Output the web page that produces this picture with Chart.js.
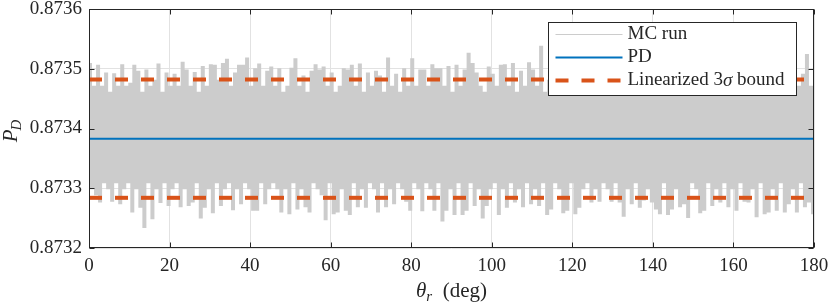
<!DOCTYPE html>
<html>
<head>
<meta charset="utf-8">
<script src="https://cdn.jsdelivr.net/npm/chart.js@4.4.1/dist/chart.umd.min.js"></script>
<style>
  html, body { margin: 0; padding: 0; background: #fff; }
  #wrap { width: 830px; height: 307px; }
</style>
</head>
<body>
<div id="wrap"><canvas id="pdChart" width="830" height="307"></canvas></div>
<script>
// --- Data ---
const xTicks = [0, 20, 40, 60, 80, 100, 120, 140, 160, 180];
const yTicks = [0.8732, 0.8733, 0.8734, 0.8735, 0.8736];
const xEnds = [0, 180];
const pdValue = [0.873383, 0.873383];
const boundUpper = [0.873482, 0.873482];
const boundLower = [0.873284, 0.873284];

// MC run: peak at each whole degree, dip at the half degree after it
const mcPeak = [
  0.873508, 0.87347, 0.873505, 0.87347, 0.873492, 0.87346, 0.873491, 0.87347, 0.873506, 0.87347,
  0.873475, 0.873505, 0.873495, 0.87346, 0.873497, 0.87347, 0.87348, 0.873507, 0.87346, 0.873492,
  0.87347, 0.87349, 0.87347, 0.87351, 0.873497, 0.87347, 0.873493, 0.87346, 0.873503, 0.87347,
  0.873506, 0.873505, 0.87348, 0.873508, 0.873515, 0.87347, 0.873492, 0.873505, 0.873505, 0.873517,
  0.87347, 0.873499, 0.873507, 0.87347, 0.873495, 0.873502, 0.87347, 0.873499, 0.87346, 0.87347,
  0.8735, 0.873516, 0.87347, 0.873487, 0.87346, 0.873495, 0.873506, 0.873497, 0.873502, 0.87347,
  0.873492, 0.87346, 0.87347, 0.873499, 0.873497, 0.873505, 0.87347, 0.873507, 0.87346, 0.873492,
  0.87347, 0.873495, 0.873487, 0.87346, 0.873517, 0.87347, 0.87349, 0.87346, 0.873499, 0.87347,
  0.873516, 0.87347, 0.873497, 0.873497, 0.87347, 0.873506, 0.873499, 0.873499, 0.87347, 0.873503,
  0.87346, 0.873505, 0.87347, 0.873497, 0.873525, 0.873508, 0.873492, 0.87347, 0.87346, 0.873502,
  0.87349, 0.87347, 0.873505, 0.873506, 0.87347, 0.873508, 0.87346, 0.873495, 0.87347, 0.873509,
  0.873497, 0.87347, 0.873537, 0.87346, 0.87348, 0.87347, 0.87349, 0.87346, 0.8735, 0.87347,
  0.87348, 0.87349, 0.87346, 0.87347, 0.8735, 0.87347, 0.87348, 0.87346, 0.87349, 0.87347,
  0.87347, 0.8735, 0.87346, 0.87348, 0.87347, 0.87349, 0.87346, 0.87347, 0.8735, 0.87347,
  0.87348, 0.87346, 0.87349, 0.87347, 0.87347, 0.8735, 0.87346, 0.87348, 0.87347, 0.87349,
  0.87346, 0.87347, 0.8735, 0.87347, 0.87348, 0.87346, 0.87349, 0.87347, 0.87347, 0.8735,
  0.87346, 0.87348, 0.87347, 0.87349, 0.87346, 0.87347, 0.8735, 0.87347, 0.87348, 0.87346,
  0.87349, 0.87347, 0.87347, 0.8735, 0.87346, 0.87348, 0.87347, 0.87349, 0.873523, 0.87347,
  0.8735
];
const mcDip = [
  0.8733, 0.87329, 0.873278, 0.87331, 0.8733, 0.873279, 0.87331, 0.873275, 0.8733, 0.87331,
  0.873261, 0.8733, 0.873269, 0.873235, 0.87331, 0.87325, 0.8733, 0.873277, 0.87331, 0.873272,
  0.8733, 0.87331, 0.87327, 0.8733, 0.873272, 0.873278, 0.87331, 0.873251, 0.873269, 0.8733,
  0.87326, 0.87331, 0.873272, 0.8733, 0.87331, 0.873265, 0.8733, 0.873275, 0.87331, 0.8733,
  0.873264, 0.873264, 0.87331, 0.873275, 0.8733, 0.87331, 0.8733, 0.873261, 0.8733, 0.873258,
  0.87331, 0.873266, 0.8733, 0.87327, 0.873261, 0.87331, 0.8733, 0.87329, 0.873248, 0.87331,
  0.873258, 0.873261, 0.8733, 0.873264, 0.873257, 0.87331, 0.87327, 0.8733, 0.873269, 0.87331,
  0.8733, 0.873261, 0.87331, 0.87327, 0.8733, 0.873275, 0.87331, 0.8733, 0.873279, 0.873264,
  0.87331, 0.8733, 0.873263, 0.87331, 0.8733, 0.873264, 0.87331, 0.873246, 0.873264, 0.8733,
  0.873257, 0.87331, 0.873257, 0.873264, 0.87331, 0.873272, 0.8733, 0.873251, 0.873272, 0.8733,
  0.87331, 0.873257, 0.8733, 0.873269, 0.87331, 0.873278, 0.8733, 0.87327, 0.87331, 0.873275,
  0.8733, 0.873272, 0.87331, 0.873257, 0.873266, 0.87331, 0.8733, 0.87326, 0.873264, 0.87331,
  0.873258, 0.873269, 0.8733, 0.87331, 0.873278, 0.8733, 0.873279, 0.87331, 0.8733, 0.873279,
  0.87331, 0.873278, 0.873254, 0.8733, 0.873275, 0.87331, 0.873269, 0.873281, 0.8733, 0.873278,
  0.873266, 0.873258, 0.87331, 0.873257, 0.873266, 0.8733, 0.87327, 0.873275, 0.873252, 0.87331,
  0.8733, 0.87326, 0.873264, 0.87331, 0.873272, 0.8733, 0.873278, 0.87331, 0.87327, 0.8733,
  0.873264, 0.87331, 0.873279, 0.873278, 0.8733, 0.873253, 0.87331, 0.873258, 0.873261, 0.8733,
  0.873264, 0.87331, 0.873261, 0.873275, 0.8733, 0.873261, 0.87331, 0.87327, 0.873278, 0.873258
];

// --- Styling ---
const FONT = "'Liberation Serif', 'DejaVu Serif', serif";
const INK = '#262626';
const GRID = '#e2e2e2';

// interleave peaks and dips into one trace
const mcPoints = [];
mcPeak.forEach((v, i) => {
  mcPoints.push({ x: i, y: v });
  if (i < mcDip.length) mcPoints.push({ x: i + 0.5, y: mcDip[i] });
});

const flat = vals => xEnds.map((x, i) => ({ x: x, y: vals[i] }));

// --- Frame, inner ticks, legend and axis titles (MATLAB look) ---
const matlabFrame = {
  id: 'matlabFrame',
  afterDraw(chart) {
    const { ctx, chartArea: a, scales: { x, y } } = chart;
    const L = Math.round(a.left) + 0.5, R = Math.round(a.right) - 0.5;
    const T = Math.round(a.top) + 0.5, B = Math.round(a.bottom) - 0.5;
    ctx.save();

    // inner ticks
    ctx.strokeStyle = INK;
    ctx.lineWidth = 1;
    ctx.beginPath();
    xTicks.forEach(t => {
      const px = Math.round(x.getPixelForValue(t)) + 0.5;
      ctx.moveTo(px, B); ctx.lineTo(px, B - 5);
      ctx.moveTo(px, T); ctx.lineTo(px, T + 5);
    });
    yTicks.forEach(t => {
      const py = Math.round(y.getPixelForValue(t)) + 0.5;
      ctx.moveTo(L, py); ctx.lineTo(L + 5, py);
      ctx.moveTo(R, py); ctx.lineTo(R - 5, py);
    });
    ctx.stroke();
    ctx.strokeRect(L, T, R - L, B - T);

    // legend box
    const bw = 248, bh = 73;
    const bx = Math.round(a.right) - 18 - bw + 0.5, by = Math.round(a.top) + 13 + 0.5;
    ctx.fillStyle = '#fff';
    ctx.fillRect(bx, by, bw, bh);
    ctx.strokeStyle = INK;
    ctx.strokeRect(bx, by, bw, bh);
    const rows = [12, 35, 58];
    chart.data.datasets.slice(0, 3).forEach((ds, i) => {
      const ry = by + rows[i];
      ctx.save();
      ctx.strokeStyle = ds.borderColor;
      ctx.lineWidth = i === 0 ? 1.2 : ds.borderWidth;
      ctx.setLineDash(ds.borderDash || []);
      ctx.beginPath();
      ctx.moveTo(bx + 7, ry); ctx.lineTo(bx + 74, ry);
      ctx.stroke();
      ctx.restore();
      ctx.fillStyle = INK;
      ctx.textBaseline = 'middle';
      ctx.textAlign = 'left';
      let tx = bx + 79;
      if (ds.label.includes('σ')) {
        const [pre, post] = ds.label.split('σ');
        ctx.font = '19px ' + FONT;
        ctx.fillText(pre, tx, ry);
        tx += ctx.measureText(pre).width;
        ctx.font = 'italic 19px ' + FONT;
        ctx.fillText('σ', tx, ry);
        tx += ctx.measureText('σ').width;
        ctx.font = '19px ' + FONT;
        ctx.fillText(post, tx, ry);
      } else {
        ctx.font = '19px ' + FONT;
        ctx.fillText(ds.label, tx, ry);
      }
    });

    // x title: theta_r (deg)
    ctx.fillStyle = INK;
    ctx.textBaseline = 'alphabetic';
    ctx.textAlign = 'left';
    const big = 'italic 21px ' + FONT, sub = 'italic 15px ' + FONT, up = '21px ' + FONT;
    ctx.font = big; const w1 = ctx.measureText('θ').width;
    ctx.font = sub; const w2 = ctx.measureText('r').width;
    ctx.font = up; const w3 = ctx.measureText('  (deg)').width;
    let cx = (a.left + a.right) / 2 - (w1 + w2 + w3) / 2;
    const base = 297;
    ctx.font = big; ctx.fillText('θ', cx, base); cx += w1;
    ctx.font = sub; ctx.fillText('r', cx, base + 4); cx += w2;
    ctx.font = up; ctx.fillText('  (deg)', cx, base);

    // y title: P_D
    ctx.save();
    ctx.translate(17, (a.top + a.bottom) / 2 + 2);
    ctx.rotate(-Math.PI / 2);
    ctx.font = big; const p1 = ctx.measureText('P').width;
    ctx.font = sub; const p2 = ctx.measureText('D').width;
    let px0 = -(p1 + p2) / 2;
    ctx.font = big; ctx.fillText('P', px0, 0); px0 += p1 - 1;
    ctx.font = sub; ctx.fillText('D', px0, 4);
    ctx.restore();

    ctx.restore();
  }
};

new Chart(document.getElementById('pdChart'), {
  type: 'line',
  data: {
    datasets: [
      {
        label: 'MC run',
        data: mcPoints,
        borderColor: '#cccccc',
        borderWidth: 2,
        stepped: true,
        pointRadius: 0,
        order: 10
      },
      {
        label: 'PD',
        data: flat(pdValue),
        borderColor: '#0072BD',
        borderWidth: 2,
        pointRadius: 0,
        order: 1
      },
      {
        label: 'Linearized 3σ bound',
        data: flat(boundUpper),
        borderColor: '#D95319',
        borderWidth: 4,
        borderDash: [13, 13],
        pointRadius: 0,
        order: 0
      },
      {
        label: 'lower',
        data: flat(boundLower),
        borderColor: '#D95319',
        borderWidth: 4,
        borderDash: [13, 13],
        pointRadius: 0,
        order: 0
      }
    ]
  },
  options: {
    responsive: false,
    animation: false,
    events: [],
    layout: { padding: { top: 9, right: 16, left: 0, bottom: 0 } },
    plugins: { legend: { display: false }, tooltip: { enabled: false } },
    scales: {
      x: {
        type: 'linear',
        min: 0,
        max: 180,
        afterBuildTicks: s => { s.ticks = xTicks.map(v => ({ value: v })); },
        afterFit: s => { s.height = 59; s.paddingLeft = 0; s.paddingRight = 0; },
        border: { display: false },
        grid: { color: GRID, drawTicks: false },
        ticks: { color: INK, padding: 7, maxRotation: 0, font: { family: FONT, size: 19 } }
      },
      y: {
        type: 'linear',
        min: 0.8732,
        max: 0.8736,
        afterBuildTicks: s => { s.ticks = yTicks.map(v => ({ value: v })); },
        afterFit: s => { s.width = 89; s.paddingTop = 0; s.paddingBottom = 0; },
        border: { display: false },
        grid: { color: GRID, drawTicks: false },
        ticks: {
          color: INK, padding: 7, font: { family: FONT, size: 19 },
          callback: v => v.toFixed(4)
        }
      }
    }
  },
  plugins: [matlabFrame]
});
</script>
</body>
</html>
